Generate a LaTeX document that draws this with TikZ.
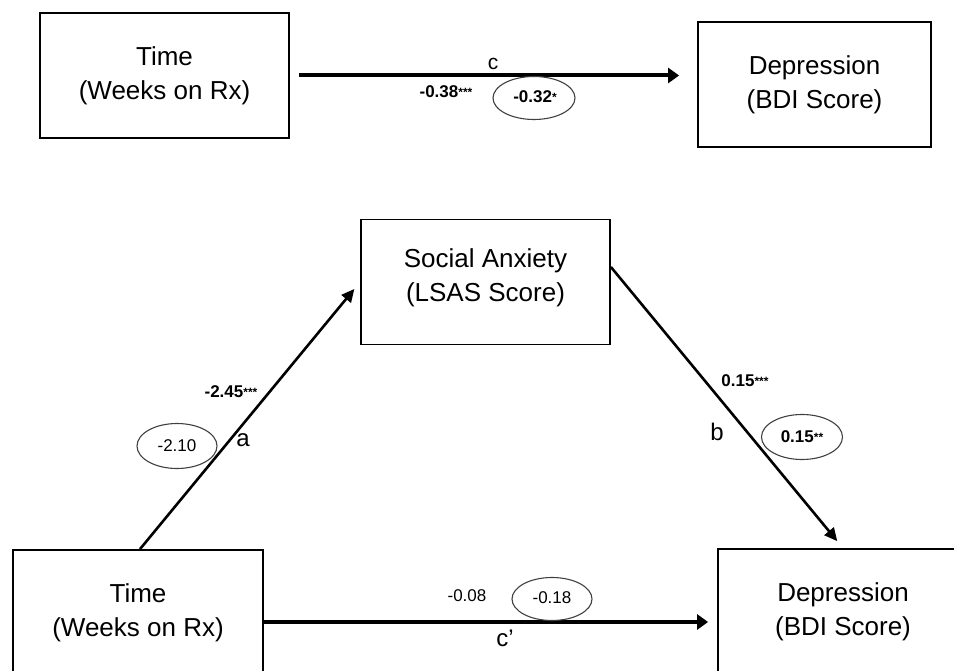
\documentclass[tikz,border=0pt]{standalone}
\usepackage{fontspec}
\setmainfont{Liberation Sans}
\usetikzlibrary{arrows.meta,shapes.geometric}
\newcommand\mysig[1]{\raisebox{1.5pt}{\fontsize{12}{12}\selectfont #1}}
\tikzset{
  box/.style={draw, line width=1.8pt, minimum width=#1, minimum height=125pt, inner sep=0pt, align=center, font=\fontsize{26}{34}\selectfont},
  box/.default=249pt,
  thickarr/.style={line width=4pt, -{Triangle[length=11pt,width=15pt]}},
  diagarr/.style={line width=2.6pt, -{Triangle[length=13pt,width=12pt]}},
  num/.style={inner sep=0pt, font=\fontsize{17}{17}\selectfont},
  bnum/.style={num, font=\fontsize{17}{17}\bfseries\selectfont},
  oval/.style={draw=black!75, line width=1.1pt, ellipse, minimum width=#1, minimum height=44pt, inner sep=0pt},
  oval/.default=81pt,
  pathlbl/.style={inner sep=0pt, font=\fontsize{24}{24}\selectfont},
}
\begin{document}
\begin{tikzpicture}[x=1pt,y=-1pt]
\useasboundingbox (0,0) rectangle (954,671);
% top model
\node[box] (t1) at (164.5,75.5) {Time\\(Weeks on Rx)};
\node[box=233pt] (d1) at (814.5,84.5) {Depression\\(BDI Score)};
\draw[thickarr, shorten <=9pt, shorten >=18pt] (t1.east) -- (t1.east -| d1.west);
\node[pathlbl, font=\fontsize{21}{21}\selectfont] (lc) at (493,64) {c};
\node[bnum] (v1) at (446,92) {-0.38\mysig{***}};
\node[oval=82pt, minimum height=43pt] (e1) at (534,98) {};
\node[bnum] (v2) at (535,97) {-0.32\mysig{*}};
% bottom model
\node[box] (sa) at (485.5,282) {Social Anxiety\\(LSAS Score)\\[-20pt]};
\node[box=250pt] (t2) at (138,612.5) {Time\\(Weeks on Rx)};
\node[box=250pt] (d2) at (843,611.5) {Depression\\(BDI Score)};
\draw[diagarr, shorten >=9pt] ([xshift=2pt]t2.north) -- (sa.west);
\draw[diagarr, shorten >=9pt] ([yshift=15pt]sa.east) -- (d2.north);
\draw[thickarr, shorten >=9pt] ([yshift=-9.5pt]t2.east) -- ([yshift=-9.5pt]t2.east -| d2.west);
% path a
\node[bnum] (v3) at (231,392) {-2.45\mysig{***}};
\node[pathlbl] (la) at (243,440) {a};
\node[oval=80pt, minimum height=45pt] (e2) at (177,446) {};
\node[num] (v4) at (177,446) {-2.10};
% path b
\node[bnum] (v5) at (745,381) {0.15\mysig{***}};
\node[pathlbl] (lb) at (717,432) {b};
\node[oval=81pt, minimum height=45pt] (e3) at (802,437) {};
\node[bnum] (v6) at (802,437) {0.15\mysig{**}};
% path c'
\node[num] (v7) at (467,596) {-0.08};
\node[oval=80pt, minimum height=43pt] (e4) at (552,599) {};
\node[num] (v8) at (552,598) {-0.18};
\node[pathlbl] (lcp) at (505,638) {c'};
\end{tikzpicture}
\end{document}
